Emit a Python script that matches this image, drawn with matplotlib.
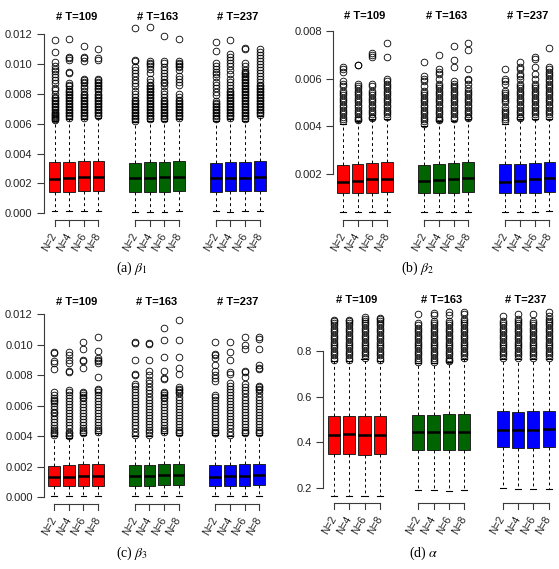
import numpy as np
import matplotlib.pyplot as plt
from matplotlib.transforms import blended_transform_factory
from matplotlib.ticker import FormatStrFormatter

plt.rcParams['font.family'] = ['Liberation Sans', 'DejaVu Sans']
plt.rcParams['mathtext.fontset'] = 'stix'

W, H = 559, 569

# box positions and labels (3 groups of 4)
positions = [1, 2, 3, 4, 6.5, 7.5, 8.5, 9.5, 12, 13, 14, 15]
n_labels = ['N=2', 'N=4', 'N=6', 'N=8'] * 3
group_titles = ['# T=109', '# T=163', '# T=237']
group_centers = [2.5, 8.0, 13.5]
colors = ['#FF0000'] * 4 + ['#006400'] * 4 + ['#0000FF'] * 4

# ---- (a) beta1 ----
a_q1 = [0.001438, 0.001438, 0.001506, 0.001483, 0.001416, 0.001416, 0.001438, 0.001483, 0.001438, 0.001461, 0.001461, 0.001506]
a_med = [0.002315, 0.002382, 0.002449, 0.002427, 0.002337, 0.002382, 0.002404, 0.002449, 0.00236, 0.002382, 0.002382, 0.002404]
a_q3 = [0.003416, 0.003416, 0.003506, 0.003506, 0.003371, 0.003416, 0.003438, 0.003506, 0.003371, 0.003438, 0.003438, 0.003506]
a_lo = [0.00018, 0.00018, 0.00016, 0.00016, 0.00011, 0.00007, 0.00011, 0.00013, 0.00018, 0.00011, 0.00013, 0.00013]
a_hi = [0.0062, 0.0063, 0.0063, 0.0064, 0.0061, 0.0062, 0.0062, 0.0063, 0.0062, 0.0063, 0.0062, 0.0065]
# outliers in units of 1e-4
a_fliers = [
    [116, 108, 101.5, 99, 97, 95.5, 93, 91, 89, 87, 84, 82.5, 80, 78, 77, 76, 75, 74, 73, 72, 71, 70, 69, 68, 67, 66.5, 66, 65, 64.5, 64, 63, 62.5],
    [117, 105, 104, 103, 95, 94, 87, 86, 85, 83, 82, 81, 80, 79, 78, 77, 76, 75, 74, 73, 72, 71, 70, 69, 68, 67, 66, 65, 64],
    [112, 105, 104, 102, 90, 89, 88, 87, 85, 84, 82, 80, 79, 78, 77, 76, 75, 74, 73, 72, 71, 70, 69, 68, 67, 66, 65, 64],
    [110, 104, 103, 90, 89, 88, 87, 86, 85, 84, 83, 82, 80, 79, 78, 77, 76, 75, 74, 73, 72, 71, 70, 69, 68, 67, 66, 65],
    [124, 103, 102, 98, 96, 94, 92, 89, 87, 85, 82, 80, 78, 76, 75, 74, 73, 72, 71, 70, 69, 68, 67, 66, 65, 64, 63, 62],
    [125, 102, 101, 100, 99, 97, 94, 90, 88, 86, 85, 84, 83, 82, 81, 80, 79, 78, 77, 76, 75, 74, 73, 72, 71, 70, 69, 68, 67, 66, 65, 64, 63],
    [119, 102, 101, 98, 96, 94, 92, 90, 88, 87, 85, 82, 80, 78, 76, 75, 74, 73, 72, 71, 70, 69, 68, 67, 66, 65, 64, 63],
    [117, 102, 101, 100, 99, 98, 96, 92, 90, 88, 86, 80, 78, 76, 75, 74, 73, 72, 71, 70, 69, 68, 67, 66, 65, 64],
    [115, 109, 101, 99, 97, 95, 93, 91, 88, 86, 84, 81, 79, 75, 74, 73, 72, 71, 70, 69, 68, 67, 66, 65, 64, 63],
    [116, 107, 105, 103, 101, 99, 96, 93, 90, 88, 86, 84, 82, 81, 80, 79, 78, 77, 76, 75, 74, 73, 72, 71, 70, 69, 68, 67, 66, 65, 64],
    [111, 110, 101, 99, 96, 95, 94, 93, 92, 91, 90, 89, 88, 87, 86, 85, 84, 83, 82, 81, 80, 79, 78, 77, 76, 75, 74, 73, 72, 71, 70, 69, 68, 67, 66, 65, 64, 63],
    [110, 108, 106, 104, 102, 100, 98, 96, 94, 92, 90, 88, 86, 85, 84, 83, 82, 81, 80, 79, 78, 77, 76, 75, 74, 73, 72, 71, 70, 69, 68, 67, 66],
]

# ---- (b) beta2 ----
b_q1 = [0.00117, 0.00117, 0.0012, 0.00121, 0.00118, 0.00118, 0.0012, 0.00124, 0.00117, 0.00117, 0.0012, 0.00121]
b_med = [0.00166, 0.00169, 0.00176, 0.00178, 0.00168, 0.00172, 0.00178, 0.00182, 0.00166, 0.0017, 0.00176, 0.00182]
b_q3 = [0.00237, 0.00242, 0.00246, 0.00249, 0.00237, 0.0024, 0.00245, 0.00249, 0.0024, 0.00242, 0.00246, 0.00247]
b_lo = [0.00038, 0.00037, 0.00038, 0.0004, 0.00038, 0.00038, 0.00038, 0.0004, 0.00038, 0.00038, 0.0004, 0.00044]
b_hi = [0.0041, 0.0042, 0.0043, 0.0043, 0.0040, 0.0042, 0.0042, 0.0043, 0.0041, 0.0043, 0.0043, 0.0043]
b_fliers = [
    [65, 64, 63, 59, 58, 57, 55, 54, 53, 52, 51, 50, 49, 48, 47, 46, 45, 44, 43, 42],
    [66, 65.8, 58, 57, 56, 55, 54, 53, 52, 51, 50, 49, 48, 47, 46, 45, 44, 43, 42.5],
    [71, 70, 69, 58, 57, 55, 54, 53, 52, 51, 50, 49, 48, 47, 46, 45, 44, 43.5],
    [75, 69, 60, 59, 58, 57, 56, 55, 54, 53, 52, 51, 50, 49, 48, 47, 46, 45, 44],
    [67, 61, 60, 59, 57, 55, 54, 53, 52, 51, 50, 49, 48, 47, 46, 45, 44, 43, 42, 41],
    [70, 64, 63, 62, 60, 58, 57, 56, 55, 54, 53, 52, 51, 50, 49, 48, 47, 46, 45, 44, 43, 42.5],
    [74, 68, 65, 59, 58, 57, 56, 55, 54, 53, 52, 51, 50, 49, 48, 47, 46, 45, 44, 43],
    [75, 72, 64, 60, 59.5, 58, 56, 55, 54, 53, 52, 51, 50, 49, 48, 47, 46, 45, 44, 43.5],
    [64, 60, 59, 58, 55, 54, 53, 52, 51, 50, 48, 47, 46, 45, 44, 43, 42],
    [67, 65, 64, 62, 61, 60, 58, 57, 56, 55, 54, 53, 52, 51, 50, 49, 48, 47, 46, 45, 44, 43.5],
    [69, 68.5, 65, 62, 60, 58, 57, 56, 55, 54, 53, 52, 51, 50, 49, 48, 47, 46, 45, 44],
    [73, 65, 64, 63, 62, 61, 60, 59, 58, 57, 56, 55, 54, 53, 52, 51, 50, 49, 48, 47, 46, 45, 44],
]

# ---- (c) beta3 ----
c_q1 = [0.00071, 0.00069, 0.00073, 0.00073, 0.00073, 0.00073, 0.00076, 0.00076, 0.00071, 0.00073, 0.00073, 0.00076]
c_med = [0.00129, 0.00131, 0.00138, 0.00138, 0.00138, 0.00138, 0.00142, 0.00142, 0.00133, 0.00138, 0.00136, 0.00144]
c_q3 = [0.00204, 0.00207, 0.00216, 0.00216, 0.00211, 0.00211, 0.00218, 0.00218, 0.00209, 0.00213, 0.00216, 0.00218]
c_lo = [0.00008] * 12
c_hi = [0.0040, 0.0039, 0.0041, 0.0042, 0.0040, 0.0040, 0.0042, 0.0041, 0.0041, 0.0040, 0.0041, 0.0041]
c_fliers = [
    [95, 94.5, 89, 88, 84, 69, 67, 65, 64, 63, 62, 60, 58, 56, 55, 53, 51, 49, 47, 45, 44, 43, 42, 41],
    [95, 93, 90, 88, 83, 82, 70, 69, 67, 65, 63, 61, 59, 57, 55, 53, 51, 49, 47, 45, 43, 42, 41, 40],
    [102, 97, 90, 89, 85, 69, 68, 67, 66, 65, 63, 61, 59, 57, 55, 53, 51, 49, 47, 45, 44, 43, 42],
    [105, 96, 91, 90, 89, 88, 79, 71, 70, 69, 67, 65, 63, 61, 59, 57, 55, 53, 51, 49, 47, 45, 44, 43],
    [102, 101, 90, 81, 80, 74, 73, 71, 69, 67, 65, 63, 61, 59, 57, 55, 53, 51, 49, 47, 45, 43, 41],
    [101, 100.5, 90, 83, 80, 77, 75, 72, 70, 68, 66, 64, 62, 60, 58, 56, 54, 52, 50, 48, 46, 44, 43, 41],
    [111, 103, 92, 83, 78, 77.5, 69, 68, 67, 66, 65, 63, 61, 59, 57, 55, 53, 51, 49, 47, 45, 44, 43],
    [116, 103, 92, 85, 81, 72, 71, 70, 69, 68, 66, 64, 62, 60, 58, 56, 54, 52, 50, 48, 46, 44, 43, 42],
    [102, 94, 93, 91, 87, 83, 80, 78, 76, 67, 66, 64, 62, 60, 58, 56, 54, 52, 50, 48, 46, 44, 43, 42],
    [102, 95, 90, 82, 81, 75, 73, 71, 69, 67, 65, 63, 61, 59, 57, 55, 53, 51, 49, 47, 45, 43, 41],
    [105, 100, 97, 83, 82, 79, 74, 72, 70, 68, 66, 64, 62, 60, 58, 56, 54, 52, 50, 48, 46, 44, 43, 42],
    [105, 104, 97, 87, 85, 84, 73, 72, 71, 70, 68, 66, 64, 62, 60, 58, 56, 54, 52, 50, 48, 46, 44, 43, 42],
]

# ---- (d) alpha ----
d_q1 = [0.350, 0.350, 0.346, 0.349, 0.368, 0.368, 0.365, 0.365, 0.378, 0.374, 0.377, 0.378]
d_med = [0.434, 0.435, 0.434, 0.431, 0.447, 0.447, 0.444, 0.447, 0.455, 0.453, 0.455, 0.457]
d_q3 = [0.514, 0.514, 0.515, 0.514, 0.521, 0.521, 0.523, 0.524, 0.539, 0.534, 0.537, 0.536]
d_lo = [0.168, 0.168, 0.166, 0.165, 0.193, 0.193, 0.190, 0.192, 0.200, 0.199, 0.198, 0.197]
d_hi = [0.755, 0.755, 0.765, 0.755, 0.745, 0.745, 0.75, 0.765, 0.765, 0.765, 0.765, 0.765]
# outliers in units of 0.01
d_fliers = [
    [93.6, 93, 92, 91, 90, 89, 88, 87, 86, 85, 84, 83, 82, 81, 80, 79, 78, 77, 76],
    [93.6, 93, 92, 91, 90, 89, 88, 87, 86, 85, 84, 83, 82, 81, 80, 79, 78, 77, 76],
    [94.5, 94, 93, 92, 91, 90, 89, 88, 87, 86, 85, 84, 83, 82, 81, 80, 79, 78, 77],
    [94.4, 94, 93, 92, 91, 90, 89, 88, 87, 86, 85, 84, 83, 82, 81, 80, 79, 78, 77, 76],
    [95.8, 92, 91, 90, 89, 88, 87, 86, 85, 84, 83, 82, 81, 80, 79, 78, 77, 76, 75.2],
    [96.5, 95.5, 93, 92, 91, 90, 89, 88, 87, 86, 85, 84, 83, 82, 81, 80, 79, 78, 77, 76, 75],
    [97, 95.5, 93, 92, 91, 90, 89, 88, 87, 86, 85, 84, 83, 82, 81, 80, 79, 78, 77, 76, 75.5],
    [97, 96, 94, 93, 92, 91, 90, 89, 88, 87, 86, 85, 84, 83, 82, 81, 80, 79, 78, 77],
    [95.1, 93, 92, 91, 90, 89, 88, 87, 86, 85, 84, 83, 82, 81, 80, 79, 78, 77],
    [96, 94, 93, 92, 91, 90, 89, 88, 87, 86, 85, 84, 83, 82, 81, 80, 79, 78, 77],
    [96, 93, 92, 91, 90, 89, 88, 87, 86, 85, 84, 83, 82, 81, 80, 79, 78, 77],
    [96.7, 95, 94, 93, 92, 91, 90, 89, 88, 87, 86, 85, 84, 83, 82, 81, 80, 79, 78, 77],
]

# layout of each panel, in pixels of the 559x569 image
panels = [
    dict(data=(a_q1, a_med, a_q3, a_lo, a_hi, a_fliers, 1e-4), c1=54.5, s=14.66, spine=44.0,
         ref=((0.0, 213.3), (0.012, 34.2)), ylim=(-0.0005, 0.0131), yticks=[0, 0.002, 0.004, 0.006, 0.008, 0.010, 0.012],
         fmt='%.3f', title_y=16.7, bracket_y=220.0, label_y=234.0, cap=(132, 268), caption=r'(a) $\beta_1$'),
    dict(data=(b_q1, b_med, b_q3, b_lo, b_hi, b_fliers, 1e-4), c1=342.8, s=14.76, spine=333.3,
         ref=((0.002, 173.0), (0.008, 29.0)), ylim=(0.0, 0.0079), yticks=[0.002, 0.004, 0.006, 0.008],
         fmt='%.3f', title_y=15.7, bracket_y=219.5, label_y=233.5, cap=(418, 268), caption=r'(b) $\beta_2$'),
    dict(data=(c_q1, c_med, c_q3, c_lo, c_hi, c_fliers, 1e-4), c1=54.2, s=14.64, spine=44.3,
         ref=((0.0, 497.0), (0.012, 314.3)), ylim=(-0.0005, 0.0121), yticks=[0, 0.002, 0.004, 0.006, 0.008, 0.010, 0.012],
         fmt='%.3f', title_y=301.7, bracket_y=504.0, label_y=518.0, cap=(132, 553), caption=r'(c) $\beta_3$'),
    dict(data=(d_q1, d_med, d_q3, d_lo, d_hi, d_fliers, 1e-2), c1=333.8, s=15.35, spine=323.3,
         ref=((0.2, 488.3), (0.8, 350.7)), ylim=(0.13, 1.0), yticks=[0.2, 0.4, 0.6, 0.8],
         fmt='%.1f', title_y=300.0, bracket_y=502.7, label_y=517.0, cap=(424, 553), caption=r'(d) $\alpha$'),
]

fig = plt.figure(figsize=(W / 100, H / 100), dpi=100)
axis_col = '#3a3a3a'
XHI = 15.7

for p in panels:
    q1, med, q3, lo, hi, fl, unit = p['data']
    (t0, p0), (t1, p1) = p['ref']
    py = lambda v: p0 + (v - t0) * (p1 - p0) / (t1 - t0)
    xlo = 1 + (p['spine'] - p['c1']) / p['s']
    left_px = p['spine']
    right_px = p['c1'] + (XHI - 1) * p['s']
    bot_px, top_px = py(p['ylim'][0]), py(p['ylim'][1])
    ax = fig.add_axes([left_px / W, 1 - bot_px / H, (right_px - left_px) / W, (bot_px - top_px) / H])
    ax.patch.set_alpha(0)

    stats = []
    for i in range(12):
        stats.append(dict(q1=q1[i], med=med[i], q3=q3[i], whislo=lo[i], whishi=hi[i],
                          fliers=np.array(fl[i]) * unit))
    bp = ax.bxp(stats, positions=positions, widths=0.8, patch_artist=True,
                boxprops=dict(edgecolor='#222222', linewidth=0.7),
                medianprops=dict(color='black', linewidth=1.8, solid_capstyle='butt'),
                whiskerprops=dict(color='black', linewidth=0.7, linestyle=(0, (3, 3))),
                capprops=dict(color='black', linewidth=0.8),
                flierprops=dict(marker='o', markerfacecolor='none', markeredgecolor='black',
                                markersize=4.8, markeredgewidth=0.6))
    for patch, col in zip(bp['boxes'], colors):
        patch.set_facecolor(col)

    ax.set_xlim(xlo, XHI)
    ax.set_ylim(*p['ylim'])
    for side in ['top', 'right', 'bottom']:
        ax.spines[side].set_visible(False)
    ax.spines['left'].set_bounds(p['yticks'][0], p['yticks'][-1])
    ax.spines['left'].set_color(axis_col)
    ax.spines['left'].set_linewidth(0.8)
    ax.set_yticks(p['yticks'])
    ax.yaxis.set_major_formatter(FormatStrFormatter(p['fmt']))
    ax.tick_params(axis='y', length=4.8, width=0.8, pad=3.5, labelsize=8, color=axis_col, labelcolor='#222222')
    ax.set_xticks([])

    tr = blended_transform_factory(ax.transData, fig.transFigure)
    for gx, gt in zip(group_centers, group_titles):
        ax.text(gx, 1 - p['title_y'] / H, gt, transform=tr, ha='center', va='center',
                fontsize=8, fontweight='bold')
    # group axes below the boxes
    yb = 1 - p['bracket_y'] / H
    yt = 1 - (p['bracket_y'] + 6) / H
    for g in range(3):
        xs = positions[4 * g:4 * g + 4]
        ax.plot([xs[0], xs[-1]], [yb, yb], transform=tr, clip_on=False, color=axis_col, lw=0.8)
        for x in xs:
            ax.plot([x, x], [yb, yt], transform=tr, clip_on=False, color=axis_col, lw=0.8)
    for x, lab in zip(positions, n_labels):
        ax.text(x, 1 - p['label_y'] / H, lab, transform=tr, rotation=60, ha='right', va='center',
                rotation_mode='anchor', fontsize=7.5, color='#222222')

    fig.text(p['cap'][0] / W, 1 - p['cap'][1] / H, p['caption'], ha='center', va='center',
             fontsize=10, family='Liberation Serif')

fig.savefig('out.png', dpi=100)
